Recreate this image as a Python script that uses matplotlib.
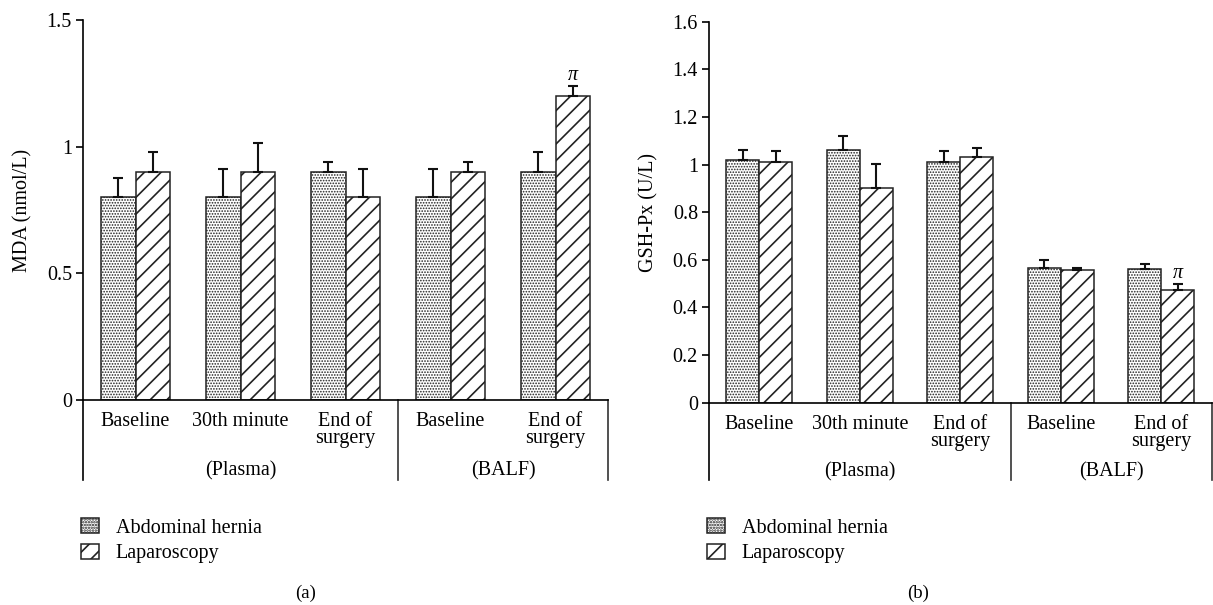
import numpy as np
import matplotlib
matplotlib.use('Agg')
from matplotlib import pyplot as plt

plt.rcParams['font.family'] = ['Liberation Serif', 'DejaVu Serif']
plt.rcParams['hatch.linewidth'] = 1.2
plt.rcParams['hatch.color'] = '#000000'

groups = ['Baseline', '30th minute', 'End of\nsurgery', 'Baseline', 'End of\nsurgery']
sections = ['(Plasma)', '(BALF)']
series = ['Abdominal hernia', 'Laparoscopy']

mda_hernia = [0.80, 0.80, 0.90, 0.80, 0.90]
mda_hernia_err = [0.077, 0.113, 0.038, 0.113, 0.077]
mda_lap = [0.90, 0.90, 0.80, 0.90, 1.20]
mda_lap_err = [0.077, 0.114, 0.113, 0.038, 0.038]

gsh_hernia = [1.02, 1.06, 1.01, 0.565, 0.56]
gsh_hernia_err = [0.041, 0.06, 0.048, 0.035, 0.022]
gsh_lap = [1.01, 0.90, 1.03, 0.558, 0.473]
gsh_lap_err = [0.045, 0.102, 0.039, 0.008, 0.025]

fs = 14.5


def panel(ax, h, herr, l, lerr, ymax, yticks, ytlabels, ylabel, ext, leg_y):
    x = np.arange(len(groups)) + 0.5
    w = 0.33
    ekw = dict(ecolor='#111111', elinewidth=1.5, capsize=3.5, capthick=1.5)
    b1 = ax.bar(x - w / 2, h, w, color='white', edgecolor='#222222', linewidth=1.1,
                hatch='......', label=series[0])
    for p in b1:
        if hasattr(p, 'set_hatch_linewidth'):
            p.set_hatch_linewidth(0.8)
    ax.errorbar(x - w / 2, h, yerr=[np.zeros(5), herr], fmt='none', **ekw)
    b2 = ax.bar(x + w / 2, l, w, color='white', edgecolor='#222222', linewidth=1.1,
                hatch='//', label=series[1])
    ax.errorbar(x + w / 2, l, yerr=[np.zeros(5), lerr], fmt='none', **ekw)
    # pi marker on last laparoscopy bar
    ax.annotate('π', (x[-1] + w / 2, l[-1] + lerr[-1]), xytext=(0, 8),
                textcoords='offset points', ha='center', va='center',
                fontsize=fs, style='italic')

    ax.set_xlim(0, 5)
    ax.set_ylim(0, ymax)
    ax.set_yticks(yticks)
    ax.set_yticklabels(ytlabels, fontsize=fs)
    ax.set_ylabel(ylabel, fontsize=fs, labelpad=10)
    ax.set_xticks(x)
    ax.set_xticklabels(groups, fontsize=fs, linespacing=0.85)
    ax.tick_params(axis='x', length=0, pad=9)
    ax.tick_params(axis='y', direction='out', length=5, width=1.2, pad=3)
    for s in ['top', 'right']:
        ax.spines[s].set_visible(False)
    for s in ['left', 'bottom']:
        ax.spines[s].set_linewidth(1.2)

    tr = ax.get_xaxis_transform()
    ax.plot([0, 0], [0, -ext], transform=tr, color='black', lw=1.2, clip_on=False)
    ax.plot([3, 3], [0, -ext], transform=tr, color='#333333', lw=1.2, clip_on=False)
    ax.plot([5, 5], [0, -ext], transform=tr, color='#333333', lw=1.2, clip_on=False)
    ax.text(1.5, -ext * 0.89, sections[0], transform=tr, ha='center', va='center', fontsize=fs)
    ax.text(4.0, -ext * 0.89, sections[1], transform=tr, ha='center', va='center', fontsize=fs)

    ax.legend(handles=[b1, b2], loc='upper left', bbox_to_anchor=(-0.003, leg_y),
              frameon=False, fontsize=fs, handlelength=0.85, handleheight=0.8,
              handletextpad=0.85, labelspacing=0.3, borderpad=0, borderaxespad=0)


fig = plt.figure(figsize=(12.13, 6.05), dpi=100)
ax1 = fig.add_axes([83 / 1213, 205 / 605, 525 / 1213, 380 / 605])
ax2 = fig.add_axes([709 / 1213, 202.3 / 605, 502.5 / 1213, 381 / 605])

panel(ax1, mda_hernia, mda_hernia_err, mda_lap, mda_lap_err, 1.5,
      [0, 0.5, 1, 1.5], ['0', '0.5', '1', '1.5'], 'MDA (nmol/L)', 80 / 380, -0.31)
panel(ax2, gsh_hernia, gsh_hernia_err, gsh_lap, gsh_lap_err, 1.6,
      np.arange(0, 1.61, 0.2), ['0', '0.2', '0.4', '0.6', '0.8', '1', '1.2', '1.4', '1.6'],
      'GSH-Px (U/L)', 77.3 / 381, -0.3026)

fig.text(306 / 1213, 1 - 593 / 605, '(a)', ha='center', va='center', fontsize=13.5)
fig.text(918 / 1213, 1 - 593 / 605, '(b)', ha='center', va='center', fontsize=13.5)

fig.savefig('out.png', dpi=100)
